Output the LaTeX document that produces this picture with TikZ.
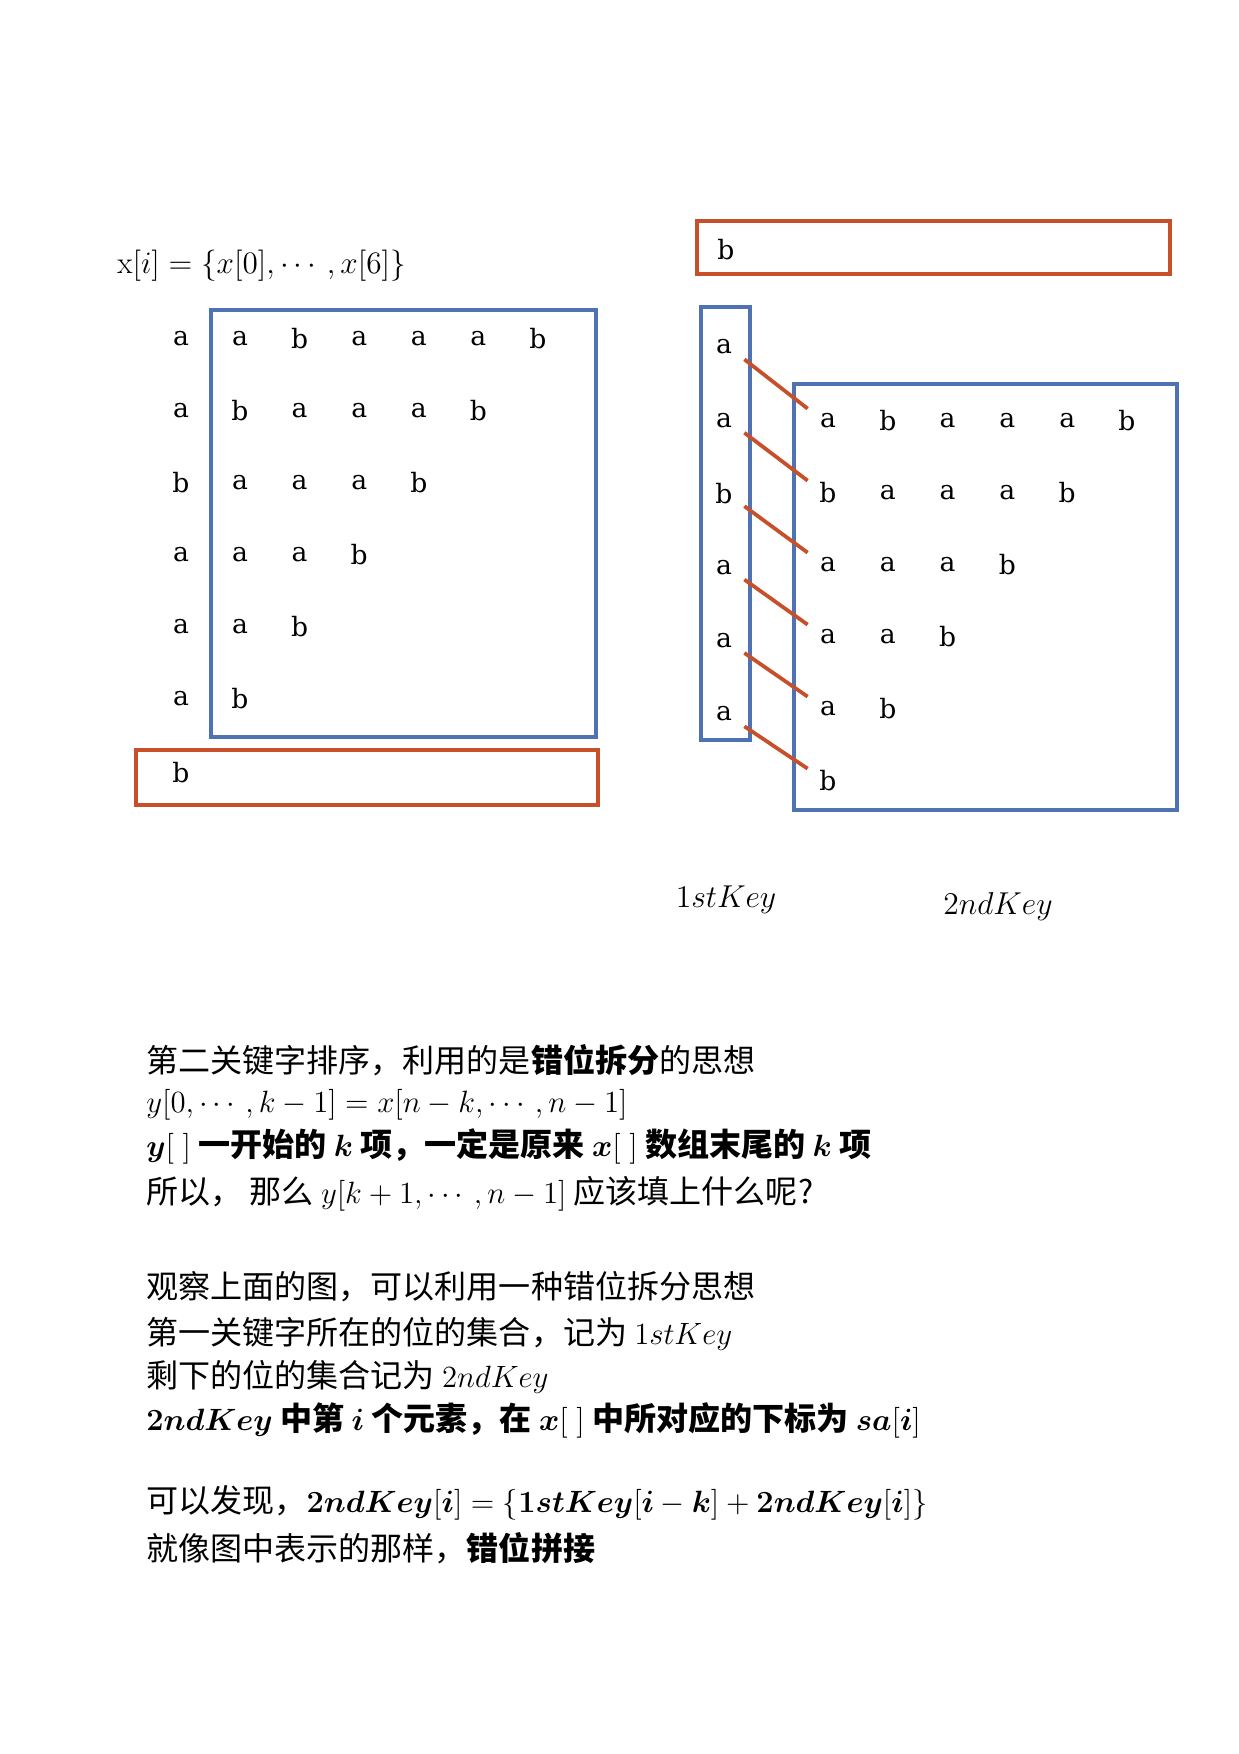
\documentclass[tikz,border=0pt]{standalone}
\usepackage{fix-cm}
\usepackage{amsmath,amssymb}
\usepackage{bm}
\usepackage{fontspec}
\newfontfamily\cjk{Noto Sans CJK SC}
\newfontfamily\gridfont{DejaVu Serif}
\usetikzlibrary{positioning}
\definecolor{boxblue}{RGB}{79,114,178}
\definecolor{boxred}{RGB}{199,80,42}
\newcommand\mth[1]{{\fontsize{14.8pt}{18pt}\selectfont$#1$}}
\tikzset{
  letter/.style={inner sep=0pt, minimum width=19.2pt, minimum height=11.5pt,
    font=\gridfont\fontsize{12.8pt}{14pt}\selectfont},
  bluebox/.style={boxblue, line width=2.1pt},
  redbox/.style={boxred, line width=2.1pt},
  link/.style={boxred, line width=1.8pt},
  note/.style={anchor=west, inner sep=0pt, font=\cjk\fontsize{15.4pt}{18pt}\selectfont},
  keylabel/.style={inner sep=0pt, font=\fontsize{15.2pt}{17pt}\selectfont}
}
\begin{document}
\begin{tikzpicture}[x=0.4805pt, y=-0.4805pt]
  \useasboundingbox[fill=white] (0,0) rectangle (1239,1754);
  % left: all suffixes
  \node[anchor=west, inner sep=0pt, font=\fontsize{15pt}{18pt}\selectfont] (title) at (117,266)
    {x$[i]=\{x[0],\cdots,x[6]\}$};
  \draw[bluebox] (211,310) rectangle (596,737);
  \draw[redbox] (136,750) rectangle (598,805);
  \foreach \c [count=\i from 0] in {a,a,b,a,a,a}
    \node[letter] (h\i) at (181,339+72*\i) {\c};
  \node[letter] (hlast) at (181,773) {b};
  \foreach \row [count=\i from 0] in {{a,b,a,a,a,b},{b,a,a,a,b},{a,a,a,b},{a,a,b},{a,b},{b}}
    \foreach \c [count=\j from 0] in \row
      \node[letter] (s\i-\j) at (240+59.6*\j,339+72*\i) {\c};
  % right: 1stKey and 2ndKey
  \draw[redbox] (697,221) rectangle (1170,274);
  \node[letter] (top) at (726,250) {b};
  \draw[bluebox] (701,307) rectangle (750,740);
  \draw[bluebox] (794,384) rectangle (1177,810);
  \foreach \c [count=\i from 0] in {a,a,b,a,a,a}
    \node[letter] (k\i) at (724,347+73.4*\i) {\c};
  \foreach \row [count=\i from 0] in {{a,b,a,a,a,b},{b,a,a,a,b},{a,a,a,b},{a,a,b},{a,b},{b}}
    \foreach \c [count=\j from 0] in \row
      \node[letter] (r\i-\j) at (828+59.8*\j,421+72*\i) {\c};
  \foreach \i in {0,...,5}
    \draw[link] (k\i.south east) -- (r\i-0.north west);
  \node[keylabel] (key1) at (726,900) {$1stKey$};
  \node[keylabel] (key2) at (998,907) {$2ndKey$};
  % explanation
  \node[note] (l1) at (146,1060) {第二关键字排序，利用的是{\bfseries 错位拆分}的思想};
  \node[note] (l2) at (146,1105) {\mth{y[0,\cdots,k-1]=x[n-k,\cdots,n-1]}};
  \node[note] (l3) at (146,1146) {\bfseries \mth{\bm{y}[\;]} 一开始的 \mth{\bm{k}} 项，一定是原来 \mth{\bm{x}[\;]} 数组末尾的 \mth{\bm{k}} 项};
  \node[note] (l4) at (146,1194) {所以， 那么 \mth{y[k+1,\cdots,n-1]} 应该填上什么呢?};
  \node[note] (l5) at (146,1287) {观察上面的图，可以利用一种错位拆分思想};
  \node[note] (l6) at (146,1334) {第一关键字所在的位的集合，记为 \mth{1stKey}};
  \node[note] (l7) at (146,1377) {剩下的位的集合记为 \mth{2ndKey}};
  \node[note] (l8) at (146,1420) {\bfseries \mth{\bm{2ndKey}} 中第 \mth{\bm{i}} 个元素，在 \mth{\bm{x}[\;]} 中所对应的下标为 \mth{\bm{sa}[\bm{i}]}};
  \node[note] (l9) at (146,1503) {可以发现，\mth{\bm{2ndKey}[\bm{i}]=\{\bm{1stKey}[\bm{i}-\bm{k}]+\bm{2ndKey}[\bm{i}]\}}};
  \node[note] (l10) at (146,1548) {就像图中表示的那样，{\bfseries 错位拼接}};
\end{tikzpicture}
\end{document}
